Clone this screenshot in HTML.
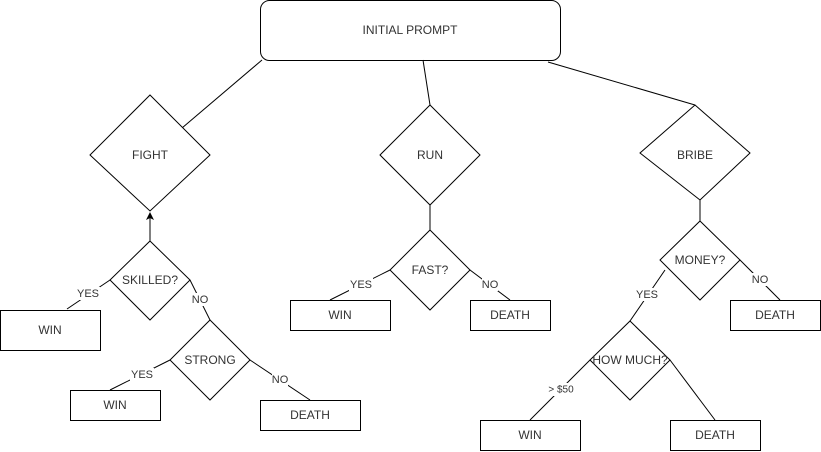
<!DOCTYPE html>
<html><head><style>html,body{margin:0;padding:0;background:#fff;}svg{display:block}</style></head>
<body>
<svg width="821" height="452" xmlns="http://www.w3.org/2000/svg" font-family="Liberation Sans, Arial, sans-serif" font-size="12" fill="none" stroke="#000" stroke-width="1">
<defs><marker id="a" markerWidth="8" markerHeight="8" refX="4" refY="4" orient="auto"><path d="M0,0 L8,4 L0,8 L2,4z" fill="#000" stroke="none"/></marker></defs>
<rect x="260.5" y="0.5" width="300" height="60" rx="9" fill="#fff"/>
<line x1="262" y1="60" x2="182" y2="128"/>
<line x1="423" y1="60" x2="430" y2="105"/>
<line x1="548" y1="62" x2="695" y2="105"/>
<polygon points="150,95 210,155 150,211 90,155" fill="#fff"/>
<polygon points="430,105 480,155 430,205 380,155" fill="#fff"/>
<polygon points="695,105 750,153 700,200 640,153" fill="#fff"/>
<!-- left -->
<line x1="150" y1="241" x2="150" y2="216" marker-end="url(#a)"/>
<polygon points="150,241 190,280 150,320 110,280" fill="#fff"/>
<rect x="0.5" y="310.5" width="100" height="40" fill="#fff"/>
<line x1="110" y1="280" x2="67" y2="309"/>
<line x1="190" y1="280" x2="210" y2="320"/>
<polygon points="210,320 250,360 210,400 170,360" fill="#fff"/>
<rect x="70.5" y="390.5" width="90" height="30" fill="#fff"/>
<line x1="170" y1="360" x2="110" y2="390"/>
<rect x="260.5" y="400.5" width="100" height="30" fill="#fff"/>
<line x1="250" y1="360" x2="310" y2="400"/>
<!-- middle -->
<line x1="430" y1="205" x2="430" y2="230"/>
<polygon points="430,230 470,270 430,310 390,270" fill="#fff"/>
<rect x="290.5" y="300.5" width="100" height="30" fill="#fff"/>
<line x1="390" y1="270" x2="330" y2="300"/>
<rect x="470.5" y="300.5" width="80" height="30" fill="#fff"/>
<line x1="470" y1="270" x2="510" y2="300"/>
<!-- right -->
<line x1="700" y1="200" x2="700" y2="221"/>
<polygon points="700,221 740,260 700,300 660,260" fill="#fff"/>
<rect x="730.5" y="300.5" width="90" height="30" fill="#fff"/>
<line x1="740" y1="260" x2="780" y2="300"/>
<line x1="665" y1="270" x2="630" y2="321"/>
<polygon points="630,321 670,360 630,400 590,360" fill="#fff"/>
<rect x="480.5" y="420.5" width="100" height="30" fill="#fff"/>
<line x1="590" y1="360" x2="530" y2="420"/>
<rect x="670.5" y="420.5" width="90" height="30" fill="#fff"/>
<line x1="670" y1="360" x2="715" y2="420"/>
<g fill="#333" stroke="none" text-anchor="middle" dominant-baseline="central">
<text x="410" y="30">INITIAL PROMPT</text>
<text x="150" y="155">FIGHT</text>
<text x="430" y="155">RUN</text>
<text x="695" y="155">BRIBE</text>
<text x="150" y="280">SKILLED?</text>
<text x="50" y="330">WIN</text>
<text x="210" y="360">STRONG</text>
<text x="115" y="405">WIN</text>
<text x="310" y="415">DEATH</text>
<text x="430" y="270">FAST?</text>
<text x="340" y="315">WIN</text>
<text x="510" y="315">DEATH</text>
<text x="700" y="260">MONEY?</text>
<text x="775" y="315">DEATH</text>
<text x="630" y="360">HOW MUCH?</text>
<text x="530" y="435">WIN</text>
<text x="715" y="435">DEATH</text>
</g>
<g fill="#333" stroke="none" text-anchor="middle" dominant-baseline="central" font-size="11">
<rect x="76" y="287" width="24" height="13" fill="#fff"/><text x="88" y="294">YES</text>
<rect x="192" y="293" width="16" height="13" fill="#fff"/><text x="200" y="300">NO</text>
<rect x="130" y="368" width="24" height="13" fill="#fff"/><text x="142" y="375">YES</text>
<rect x="272" y="373" width="16" height="13" fill="#fff"/><text x="280" y="380">NO</text>
<rect x="349" y="278" width="24" height="13" fill="#fff"/><text x="361" y="285">YES</text>
<rect x="482" y="278" width="16" height="13" fill="#fff"/><text x="490" y="285">NO</text>
<rect x="752" y="273" width="16" height="13" fill="#fff"/><text x="760" y="280">NO</text>
<rect x="635" y="288" width="24" height="13" fill="#fff"/><text x="647" y="295">YES</text>
<rect x="545" y="383" width="32" height="13" fill="#fff"/><text x="561" y="390" font-size="10">&gt; $50</text>
</g>
</svg>
</body></html>
